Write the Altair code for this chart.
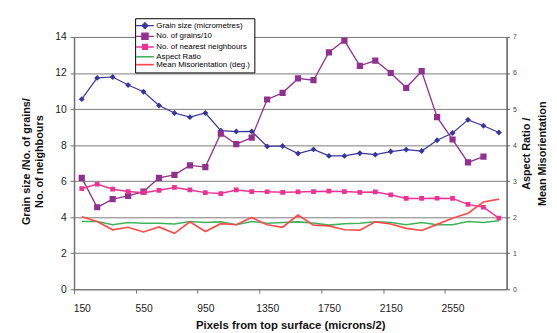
import altair as alt
import pandas as pd

FONT = "Liberation Sans"

categories = [150, 250, 350, 450, 550, 650, 750, 850, 950, 1050, 1150, 1250, 1350, 1450,
              1550, 1650, 1750, 1850, 1950, 2050, 2150, 2250, 2350, 2450, 2550, 2650, 2750, 2850]
x_labels = [150, 550, 950, 1350, 1750, 2150, 2550]

grain_size = [10.55, 11.73, 11.78, 11.33, 10.96, 10.2, 9.78, 9.55, 9.78, 8.8, 8.75, 8.76, 7.93, 7.95,
              7.53, 7.76, 7.4, 7.4, 7.55, 7.47, 7.64, 7.75, 7.67, 8.27, 8.67, 9.4, 9.07, 8.7]
grains_10 = [6.18, 4.55, 5.0, 5.18, 5.42, 6.18, 6.35, 6.87, 6.78, 8.64, 8.05, 8.42, 10.53, 10.9,
             11.7, 11.6, 13.15, 13.8, 12.4, 12.69, 12.0, 11.18, 12.1, 9.55, 8.31, 7.04, 7.36, None]
neighbours = [5.58, 5.84, 5.55, 5.42, 5.36, 5.49, 5.65, 5.51, 5.36, 5.31, 5.51, 5.42, 5.41, 5.38,
              5.4, 5.42, 5.44, 5.42, 5.38, 5.4, 5.24, 5.04, 5.04, 5.05, 5.04, 4.71, 4.55, 3.95]
aspect_ratio = [1.88, 1.88, 1.79, 1.85, 1.83, 1.83, 1.81, 1.88, 1.85, 1.87, 1.79, 1.88, 1.83, 1.85,
                1.87, 1.84, 1.78, 1.82, 1.83, 1.87, 1.85, 1.79, 1.85, 1.79, 1.79, 1.88, 1.85, 1.9]
misorientation = [2.01, 1.88, 1.65, 1.72, 1.59, 1.73, 1.55, 1.87, 1.6, 1.82, 1.79, 1.99, 1.79, 1.72,
                  2.06, 1.78, 1.76, 1.65, 1.64, 1.87, 1.81, 1.69, 1.63, 1.8, 1.97, 2.11, 2.42, 2.5]

series_names = ["Grain size (micrometres)", "No. of grains/10", "No. of nearest neighbours",
                "Aspect Ratio", "Mean Misorientation (deg.)"]
series_colors = ["#36369c", "#92308f", "#ec3394", "#3fb35c", "#ff4a4a"]
# marker paths in unit coords (scale = sqrt(size)/2 = 3px per unit)
series_shapes = [
    "M-3,0H3M0,-1L1,0L0,1L-1,0Z",
    "M-3,0H3M-1.05,-1.05H1.05V1.05H-1.05Z",
    "M-3,0H3M-0.8,-0.8H0.8V0.8H-0.8Z",
    "M-3,0H3",
    "M-3,0H3",
]
series_widths = [1.2, 1.7, 1.2, 1.0, 1.0]


def long(names, arrays):
    rows = []
    for name, arr in zip(names, arrays):
        for x, v in zip(categories, arr):
            if v is not None:
                rows.append({"x": x, "series": name, "value": v})
    return pd.DataFrame(rows)


left_df = long(series_names[:3], [grain_size, grains_10, neighbours])
right_df = long(series_names[3:], [aspect_ratio, misorientation])

cat_w = 439 / 28.0

legend = alt.Legend(
    title=None, orient="none", legendX=62, legendY=-19,
    padding=3.5, symbolOffset=2.5, strokeColor="black", fillColor="white", cornerRadius=0,
    rowPadding=-1.2, symbolSize=36, labelOffset=7.5, labelFontSize=8, labelFont=FONT,
    labelColor="black", symbolOpacity=1, symbolStrokeWidth=1.3,
)

color_enc = alt.Color("series:N", scale=alt.Scale(domain=series_names, range=series_colors), legend=legend)
width_enc = alt.StrokeWidth("series:N", scale=alt.Scale(domain=series_names, range=series_widths), legend=None)
shape_enc = alt.Shape("series:N", scale=alt.Scale(domain=series_names, range=series_shapes), legend=legend)

x_enc = alt.X(
    "x:Q",
    scale=alt.Scale(domain=[100, 2900], nice=False, zero=False),
    axis=alt.Axis(
        values=x_labels, format="d", title="Pixels from top surface (microns/2)", grid=False,
        tickOffset=-cat_w / 2, labelOffset=cat_w / 2, labelFlush=False, labelOverlap=False,
        tickSize=4, tickColor="#707070", domainColor="#707070",
        labelFont=FONT, labelFontSize=10.5, labelColor="#222", labelPadding=11,
        titleFont=FONT, titleFontSize=11.5, titleFontWeight="bold", titleColor="#111", titlePadding=5,
    ),
)

y_left = alt.Y(
    "value:Q",
    scale=alt.Scale(domain=[0, 14], nice=False),
    axis=alt.Axis(
        values=[0, 2, 4, 6, 8, 10, 12, 14], grid=True, gridColor="#7a7a7a", gridWidth=1,
        domainColor="#707070", domainWidth=1.5, tickSize=4, tickColor="#707070",
        labelFont=FONT, labelFontSize=10.5, labelColor="#222", labelPadding=4,
        title=["Grain size /No. of grains/", "No. of neighbours"],
        titleFont=FONT, titleFontSize=11, titleFontWeight="bold", titleColor="#111",
        titleAngle=270, titleBaseline="middle", titleAlign="center", titleLineHeight=13,
        titleX=-48, titleY=126,
    ),
)

y_right = alt.Y(
    "value:Q",
    scale=alt.Scale(domain=[0, 7], nice=False),
    axis=alt.Axis(
        orient="right", values=[0, 1, 2, 3, 4, 5, 6, 7], grid=False,
        domainColor="#606060", domainWidth=1.5, tickSize=3, tickColor="#606060",
        labelFont=FONT, labelFontSize=7, labelColor="#444", labelPadding=3,
        title=["Aspect Ratio /", "Mean Misorientation"],
        titleFont=FONT, titleFontSize=11, titleFontWeight="bold", titleColor="#111",
        titleAngle=270, titleBaseline="middle", titleAlign="center", titleLineHeight=16,
        titleX=20, titleY=118,
    ),
)

left_lines = alt.Chart(left_df).mark_line().encode(x=x_enc, y=y_left, color=color_enc, strokeWidth=width_enc)
left_points = alt.Chart(left_df).mark_point(filled=True, size=36, opacity=1, strokeWidth=0).encode(
    x=x_enc, y=y_left, color=color_enc, shape=shape_enc)
left = alt.layer(left_lines, left_points)

right = alt.Chart(right_df).mark_line().encode(x=x_enc, y=y_right, color=color_enc, strokeWidth=width_enc)

chart = alt.layer(left, right).resolve_scale(y="independent").properties(
    width=439, height=256,
    autosize=alt.AutoSizeParams(type="none"),
    padding={"left": 67, "top": 27, "right": 43, "bottom": 42},
).configure_view(stroke=None).configure(background="white")

chart.save("out.html", embed_options={"renderer": "svg", "actions": False})
